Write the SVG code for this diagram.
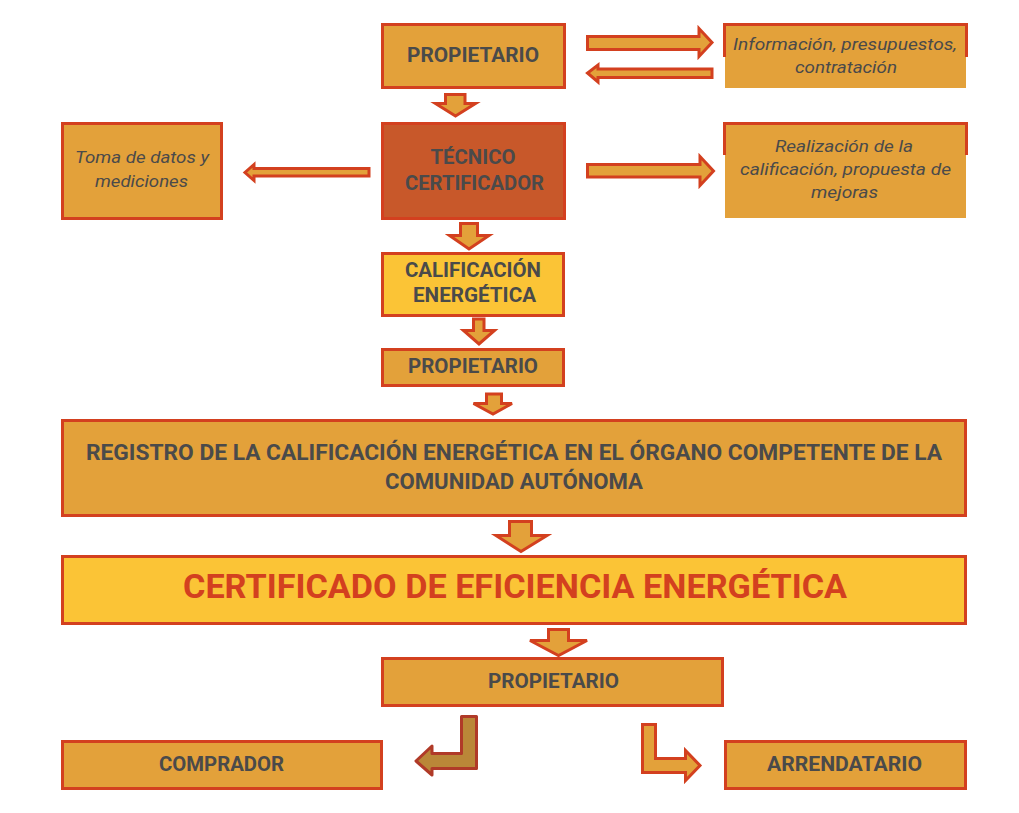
<svg xmlns="http://www.w3.org/2000/svg" width="1019" height="813" viewBox="0 0 1019 813">
<style>
.box{fill:#E3A13A;stroke:#D3401F;stroke-width:3}
.tec{fill:#C8582A;stroke:#D3401F;stroke-width:3}
.yel{fill:#FBC436;stroke:#D3401F;stroke-width:3}
.fill{fill:#E3A13A}
.edge{fill:none;stroke:#D3401F;stroke-width:3}
.t{font-family:Roboto,"Liberation Sans",sans-serif;font-weight:bold;fill:#4A4A4A;text-anchor:middle}
.i{font-family:Roboto,"Liberation Sans",sans-serif;font-style:italic;fill:#4A4A4A;text-anchor:middle;font-size:16.5px}
.arr{fill:#E3A13A;stroke:#D3401F;stroke-width:3;stroke-linejoin:miter}
.arrd{fill:#BA8738;stroke:#B03A28;stroke-width:3;stroke-linejoin:round}
</style>
<rect width="1019" height="813" fill="#FFFFFF"/>
<g id="propietario1">
<rect class="box" x="382.5" y="24.5" width="182" height="63"/>
<text class="t" x="473" y="62" font-size="20" textLength="132" lengthAdjust="spacingAndGlyphs">PROPIETARIO</text>
</g>
<g id="info">
<rect class="fill" x="725" y="25" width="241" height="63"/>
<path class="edge" d="M724.5,57 V24.5 H966.5 V57"/>
<text class="i" x="845" y="50" textLength="224" lengthAdjust="spacingAndGlyphs">Información, presupuestos,</text>
<text class="i" x="846" y="73" textLength="102" lengthAdjust="spacingAndGlyphs">contratación</text>
</g>
<g id="tecnico">
<rect class="tec" x="382.5" y="123.5" width="182" height="95"/>
<text class="t" x="473" y="164" font-size="20" textLength="85" lengthAdjust="spacingAndGlyphs">TÉCNICO</text>
<text class="t" x="474.5" y="190" font-size="20" textLength="139" lengthAdjust="spacingAndGlyphs">CERTIFICADOR</text>
</g>
<g id="toma">
<rect class="box" x="62.5" y="123.5" width="159" height="95"/>
<text class="i" x="142" y="163" textLength="134" lengthAdjust="spacingAndGlyphs">Toma de datos y</text>
<text class="i" x="141.5" y="187" textLength="93" lengthAdjust="spacingAndGlyphs">mediciones</text>
</g>
<g id="realizacion">
<rect class="fill" x="725" y="123" width="241" height="95"/>
<path class="edge" d="M724.5,155 V123.5 H966.5 V155"/>
<text class="i" x="844" y="152" textLength="138" lengthAdjust="spacingAndGlyphs">Realización de la</text>
<text class="i" x="845.5" y="175" textLength="211" lengthAdjust="spacingAndGlyphs">calificación, propuesta de</text>
<text class="i" x="844.5" y="198" textLength="67" lengthAdjust="spacingAndGlyphs">mejoras</text>
</g>
<g id="calificacion">
<rect class="yel" x="382.5" y="253.5" width="181" height="62"/>
<text class="t" x="473" y="277" font-size="20" textLength="136" lengthAdjust="spacingAndGlyphs">CALIFICACIÓN</text>
<text class="t" x="474.5" y="302" font-size="20" textLength="123" lengthAdjust="spacingAndGlyphs">ENERGÉTICA</text>
</g>
<g id="propietario2">
<rect class="box" x="382.5" y="349.5" width="181" height="36"/>
<text class="t" x="473" y="373" font-size="20" textLength="130" lengthAdjust="spacingAndGlyphs">PROPIETARIO</text>
</g>
<g id="registro">
<rect class="box" x="62.5" y="420.5" width="903" height="95"/>
<text class="t" x="514" y="460" font-size="22" textLength="856" lengthAdjust="spacingAndGlyphs">REGISTRO DE LA CALIFICACIÓN ENERGÉTICA EN EL ÓRGANO COMPETENTE DE LA</text>
<text class="t" x="514" y="489" font-size="22" textLength="258" lengthAdjust="spacingAndGlyphs">COMUNIDAD AUTÓNOMA</text>
</g>
<g id="certificado">
<rect class="yel" x="62.5" y="556.5" width="903" height="67"/>
<text class="t" x="515" y="598" font-size="33" fill="#D3401F" style="fill:#D3401F" textLength="664" lengthAdjust="spacingAndGlyphs">CERTIFICADO DE EFICIENCIA ENERGÉTICA</text>
</g>
<g id="propietario3">
<rect class="box" x="382.5" y="658.5" width="340" height="47"/>
<text class="t" x="553.5" y="688" font-size="20" textLength="131" lengthAdjust="spacingAndGlyphs">PROPIETARIO</text>
</g>
<g id="comprador">
<rect class="box" x="62.5" y="741.5" width="319" height="47"/>
<text class="t" x="221.5" y="771" font-size="20" textLength="125" lengthAdjust="spacingAndGlyphs">COMPRADOR</text>
</g>
<g id="arrendatario">
<rect class="box" x="725.5" y="741.5" width="240" height="47"/>
<text class="t" x="844.5" y="771" font-size="20" textLength="155" lengthAdjust="spacingAndGlyphs">ARRENDATARIO</text>
</g>
<g id="connectors">
<polygon class="arr" points="587.5,36.5 699,36.5 699,28.5 712,42.5 699,56.5 699,49.5 587.5,49.5"/>
<polygon class="arr" points="712,69 598,69 598,65 587.5,73 598,82 598,77.5 712,77.5"/>
<polygon class="arr" points="445.5,94.5 465,94.5 465,103.5 475.5,103.5 455.5,116 435.5,103.5 445.5,103.5"/>
<polygon class="arr" points="587.5,164.5 700,164.5 700,156.5 713.5,171 700,185.5 700,177 587.5,177"/>
<polygon class="arr" points="369,168.5 254,168.5 254,164.5 245,172.5 254,180.5 254,176 369,176"/>
<polygon class="arr" points="460.5,223.5 477.5,223.5 477.5,235.5 489,235.5 469,249 449.5,235.5 460.5,235.5"/>
<polygon class="arr" points="473.5,319 484,319 484,330.5 494.5,330.5 479,344 463.5,330.5 473.5,330.5"/>
<polygon class="arr" points="486.5,394 501.5,394 501.5,403.5 512,403.5 493,414 473.5,403.5 486.5,403.5"/>
<polygon class="arr" points="509.5,521.5 531.5,521.5 531.5,535.5 547,535.5 521,551.5 496,535.5 509.5,535.5"/>
<polygon class="arr" points="548.5,629.5 568.5,629.5 568.5,640.5 587,640.5 558.5,655.5 530,640.5 548.5,640.5"/>
<polygon class="arrd" points="476.5,716.5 476.5,768.5 432,768.5 432,775 416,761 432,746 432,753.5 461.5,753.5 461.5,716.5"/>
<polygon class="arr" points="642.5,724.5 655.5,724.5 655.5,758.5 685.5,758.5 685.5,750.5 700,765.5 685.5,780.5 685.5,772.5 642.5,772.5"/>
</g>
</svg>
